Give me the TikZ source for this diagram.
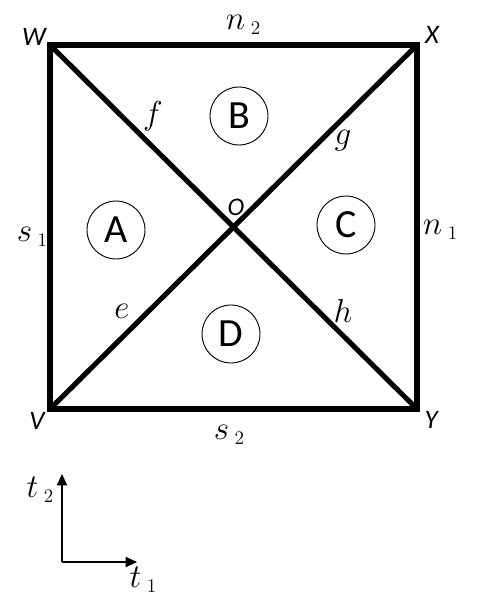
\documentclass[tikz,border=0pt]{standalone}
\usepackage[no-math]{fontspec}
\setmainfont{Carlito}
\usetikzlibrary{arrows.meta}

% math-like label with a detached subscript
\newcommand{\lbl}[2]{$#1$\,\raisebox{-0.35ex}{\fontsize{15}{15}\selectfont$\mathrm{#2}$}}

\begin{document}
\begin{tikzpicture}[x=0.75pt, y=-0.75pt,
    edge/.style = {line width=3.8pt, line join=miter},
    region/.style = {draw, circle, line width=0.7pt, minimum size=43.5pt, inner sep=0pt,
                     font=\fontsize{30}{30}\selectfont},
    corner/.style = {font=\itshape\fontsize{20}{20}\selectfont},
    side/.style = {font=\fontsize{25}{25}\selectfont},
    axis/.style = {line width=1.4pt, -{Triangle[length=8.5pt, width=7.5pt]}}]
    \useasboundingbox (0,0) rectangle (476,602);

    % square and diagonals
    \coordinate (W) at (50,45);
    \coordinate (X) at (417,45);
    \coordinate (Y) at (417,409);
    \coordinate (V) at (50,409);
    \coordinate (O) at (233.5,227);

    \draw[edge] (W) -- (X) -- (Y) -- (V) -- cycle;
    \draw[edge] (W) -- (Y);
    \draw[edge] (V) -- (X);

    % corner and centre names
    \node[corner] (lW) at (34,37) {W};
    \node[corner] (lX) at (432,35) {X};
    \node[corner] (lY) at (431,420) {Y};
    \node[corner] (lV) at (37,421) {V};
    \node[font=\itshape\fontsize{19}{19}\selectfont] (lO) at (236,207) {O};

    % sides
    \node[side] (n2) at (243,25) {\lbl{n}{2}};
    \node[side] (n1) at (440,230) {\lbl{n}{1}};
    \node[side] (s1) at (32,237) {\lbl{s}{1}};
    \node[side] (s2) at (229,435) {\lbl{s}{2}};

    % half diagonals
    \node[side] (f) at (153,116) {$f$};
    \node[side] (g) at (343,141) {$g$};
    \node[side] (e) at (122,311) {$e$};
    \node[side] (h) at (343,311) {$h$};

    % regions
    \node[region] (A) at (116,230) {A};
    \node[region] (B) at (239,116) {B};
    \node[region] (C) at (346,225) {C};
    \node[region] (D) at (231,334) {D};

    % axes
    \coordinate (t0) at (62,562);
    \coordinate (t1end) at (137,562);
    \coordinate (t2end) at (62,474);
    \draw[axis] (t0) -- (t1end);
    \draw[axis] (t0) -- (t2end);
    \node[side] (t2) at (40,490) {\lbl{t}{2}};
    \node[side] (t1) at (143,580) {\lbl{t}{1}};

    \end{tikzpicture}
\end{document}
